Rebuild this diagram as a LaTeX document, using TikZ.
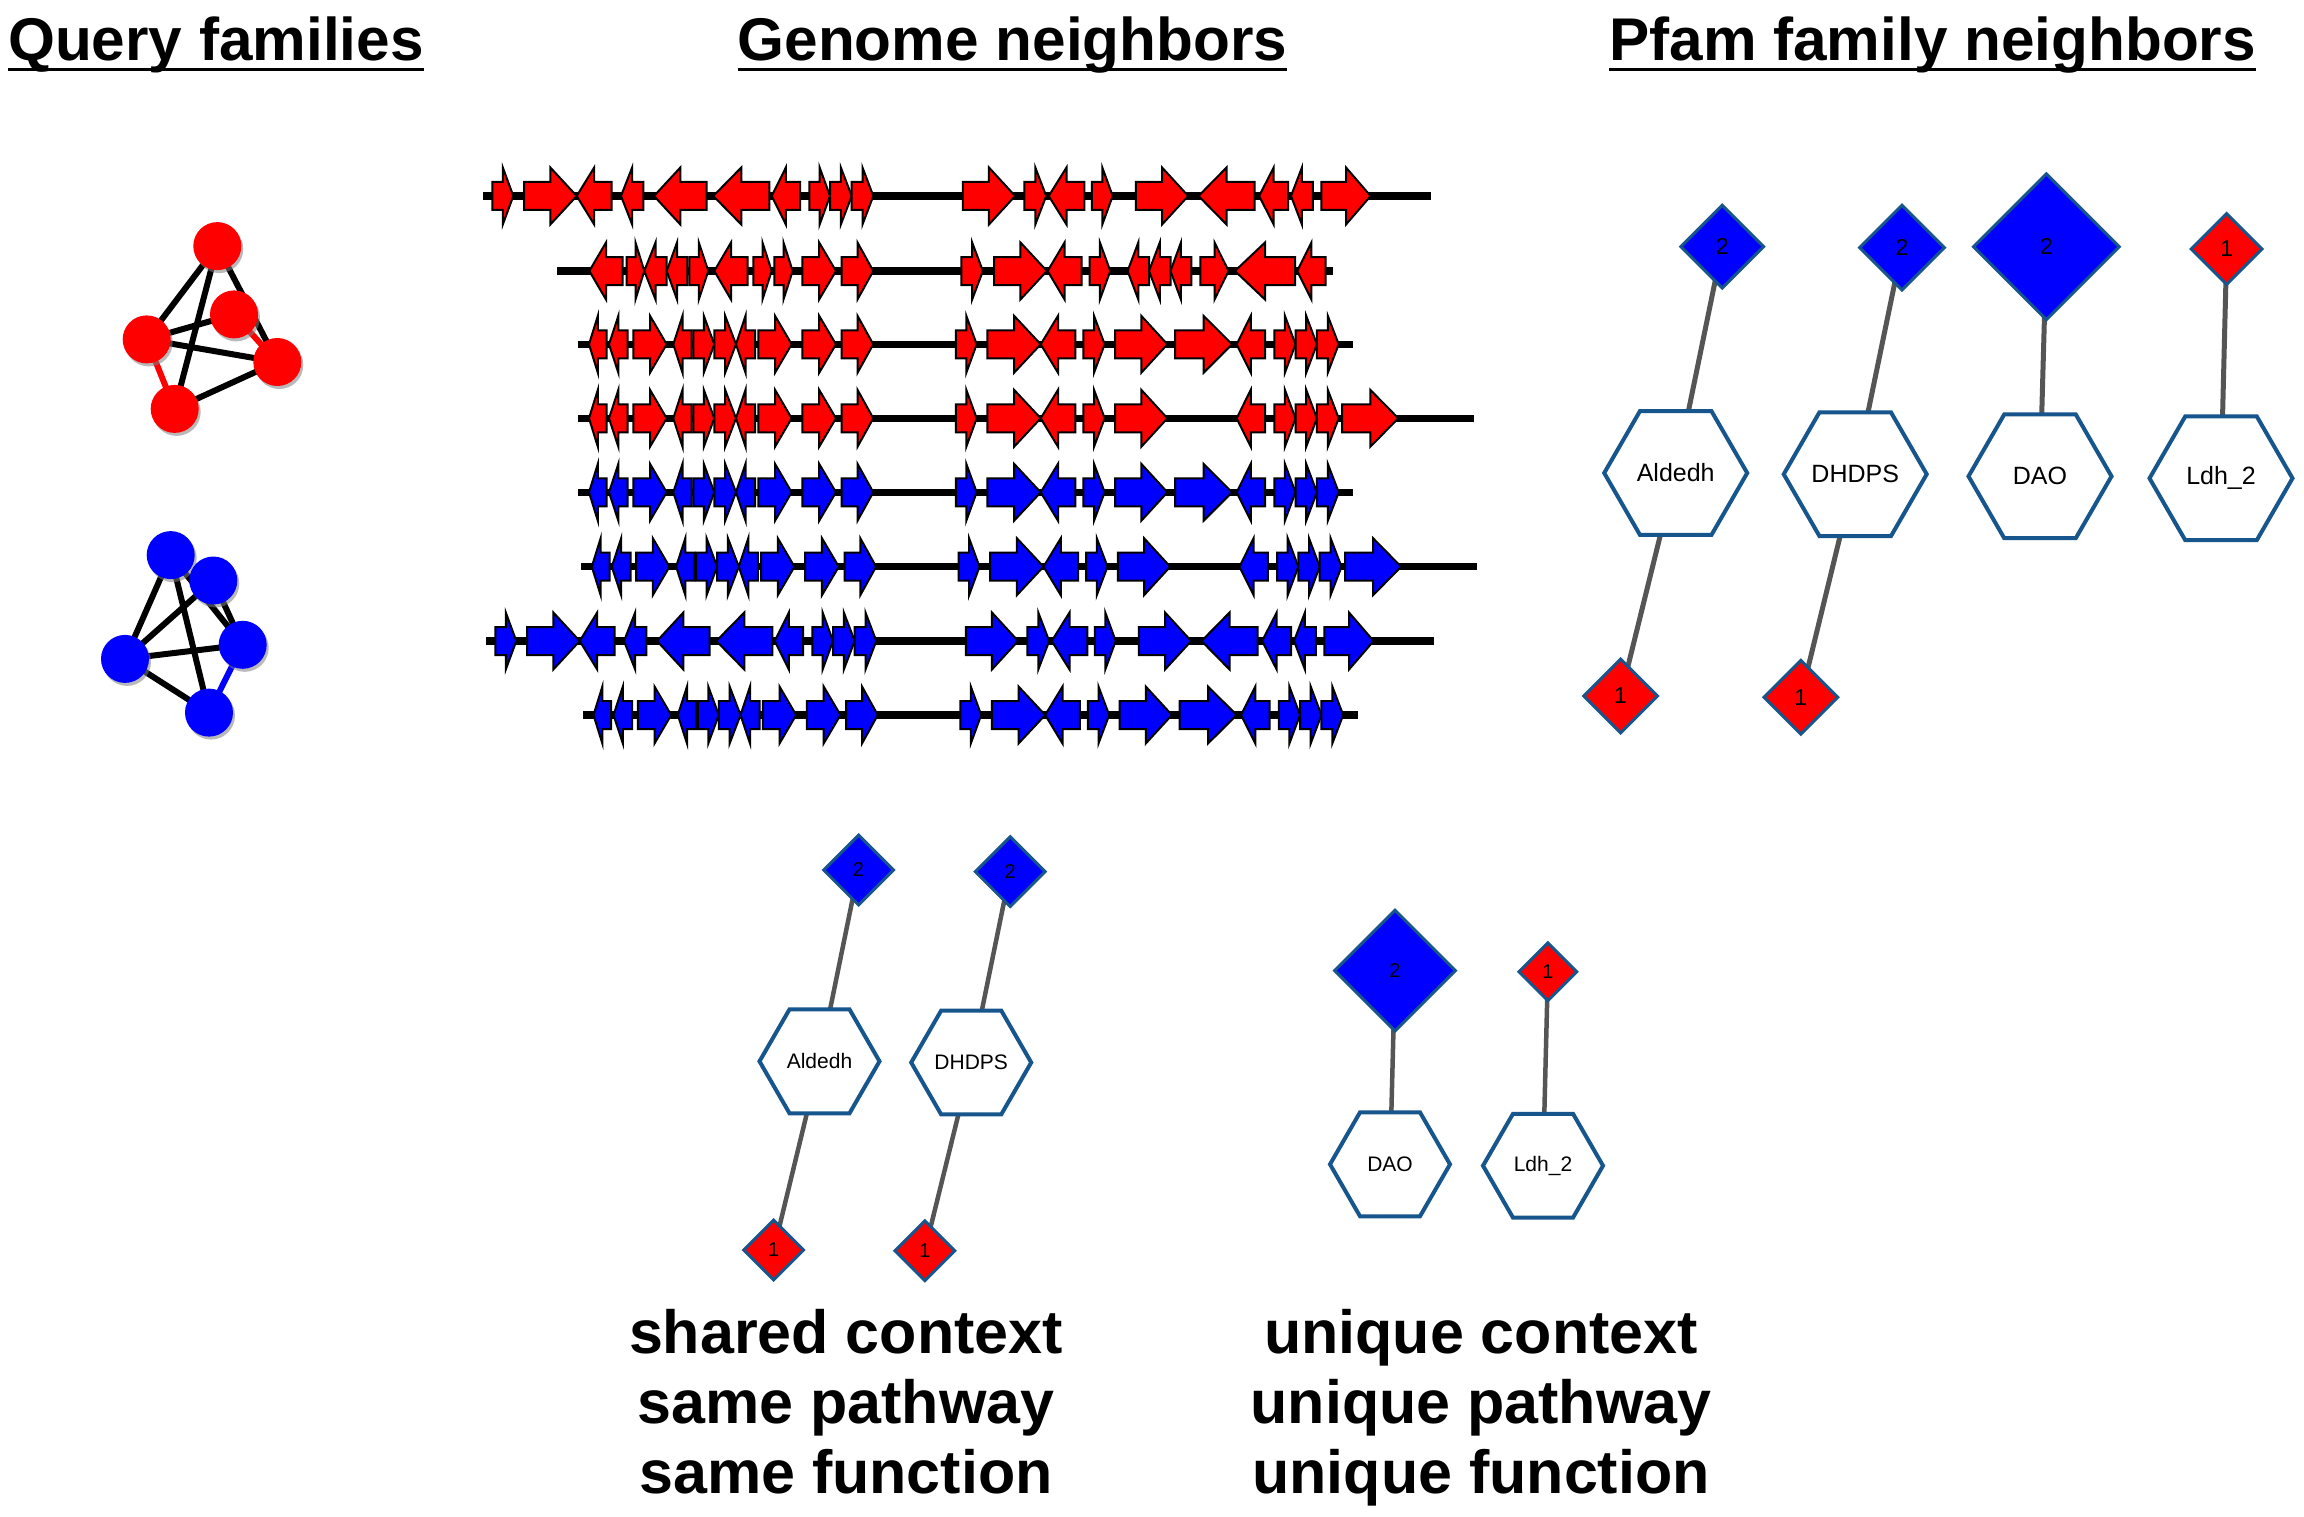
\documentclass[tikz,border=0pt]{standalone}
\usepackage{fontspec}
\setmainfont{Liberation Sans}
\usetikzlibrary{shapes.geometric,shadows,calc}
\pgfdeclarelayer{bgfill}
\pgfdeclarelayer{background}
\pgfsetlayers{bgfill,background,main}
\definecolor{gred}{RGB}{255,0,0}
\definecolor{gblue}{RGB}{0,0,255}
\definecolor{bord}{RGB}{22,86,140}
\definecolor{edgegray}{RGB}{85,85,85}

\tikzset{
  genebox/.style={draw=black,line width=2pt,line join=miter},
  qnode/.style={circle,minimum size=48pt,inner sep=0pt,
    drop shadow={shadow xshift=2pt,shadow yshift=-3pt,opacity=0.55}},
  qedge/.style={line width=6pt},
  title/.style={font=\fontsize{60.3}{70}\selectfont\bfseries,inner sep=0pt,anchor=base west},
  caption/.style={font=\fontsize{61}{70}\selectfont\bfseries,inner sep=0pt,anchor=base},
  ulin/.style={line width=3pt},
  dia/.style={diamond,aspect=1,inner sep=0pt,draw=bord,line width=3pt},
  hexa/.style={regular polygon,regular polygon sides=6,inner sep=0pt,draw=bord,line width=4pt,fill=white},
  pedge/.style={draw=edgegray,line width=5pt},
  sedge/.style={draw=edgegray,line width=4.5pt}
}

\newcommand{\generow}[5]{%
  \draw[line width=7.5pt] (#2,#1) -- (#3,#1);
  \foreach \a/\b/\d in #5 {%
    \pgfmathsetmacro{\hh}{(\b-\a)/2}%
    \if\d R%
      \pgfmathsetmacro{\m}{\b-\hh}%
      \filldraw[genebox,fill=#4] (\a,#1-14) -- (\m,#1-14) -- (\m,#1-28.5) -- (\b,#1) -- (\m,#1+28.5) -- (\m,#1+14) -- (\a,#1+14) -- cycle;%
    \else
      \pgfmathsetmacro{\m}{\a+\hh}%
      \filldraw[genebox,fill=#4] (\b,#1-14) -- (\m,#1-14) -- (\m,#1-28.5) -- (\a,#1) -- (\m,#1+28.5) -- (\m,#1+14) -- (\b,#1+14) -- cycle;%
    \fi
  }%
}

\def\rowone{492.3/513.3/R,524/576.7/R,576.7/611.7/L,621/643.3/L,654/706.7/L,713.3/769.3/L,771.7/800/L,809.3/830/R,830/851.7/R,851.7/873.3/R,962.8/1015.1/R,1024.4/1046.2/R,1048.7/1084.3/L,1091.9/1112.7/R,1135.9/1188.2/R,1198.5/1254.6/L,1259.1/1288.2/L,1291/1312.8/L,1321.4/1370.6/R}
\def\rowtwo{589.3/622.7/L,626.7/644.3/R,644.3/666.7/L,666.7/687.3/L,689.3/708.3/R,714.3/747.7/L,753.3/771.7/R,774.3/792.7/R,802.3/836/R,841.7/873.3/R,961.4/982.9/R,994/1046.9/R,1047.6/1081.5/L,1089.5/1110.3/R,1127.6/1149/L,1149/1170.5/L,1170.5/1191.3/L,1200.3/1228.7/R,1234.9/1295.1/L,1297.2/1325.6/L}
\def\rowthree{589/606.7/L,609/627.7/L,633.3/666.7/R,673.3/691.7/L,693.3/714.3/R,714.3/736/R,736/755/L,758.3/791.7/R,802.3/836/R,841.7/873.3/R,955.9/976.7/R,987.4/1040.7/R,1040.7/1075.3/L,1083.3/1104.7/R,1115.1/1167.4/R,1175/1232.1/R,1236.6/1265/L,1274.3/1295.5/R,1295.5/1316.9/R,1316.9/1338.7/R}
\def\rowfour{589/606.7/L,609/627.7/L,633.3/666.7/R,673.3/691.7/L,693.3/714.3/R,714.3/736/R,736/755/L,758.3/791.7/R,802.3/836/R,841.7/873.3/R,955.9/976.7/R,987.4/1040.7/R,1040.7/1075.3/L,1083.3/1104.7/R,1115.1/1167.4/R,1236.6/1265/L,1274.3/1295.5/R,1295.5/1316.9/R,1316.9/1338.7/R,1342.2/1398.3/R}

\begin{document}
\begin{tikzpicture}[x=1pt,y=-1pt]
\begin{pgfonlayer}{bgfill}
\fill[white] (0,0) rectangle (2304,1517);
\end{pgfonlayer}
\useasboundingbox (0,0) rectangle (2304,1517);

% ---------- titles
\node[title] (qt) at (8,61) {Query families};
\node[title] (gt) at (737.5,61) {Genome neighbors};
\node[title] (pt) at (1609,61) {Pfam family neighbors};
\foreach \t in {qt,gt,pt}{
  \draw[ulin] ($(\t.base west)+(0,8.5)$) -- ($(\t.base east)+(0,8.5)$);
}

% ---------- query families
\node[qnode,fill=gred] (r1) at (217.3,246.1) {};
\node[qnode,fill=gred] (r2) at (234,314.4) {};
\node[qnode,fill=gred] (r3) at (146.7,339.4) {};
\node[qnode,fill=gred] (r4) at (277.3,362) {};
\node[qnode,fill=gred] (r5) at (174.7,408.9) {};
\node[qnode,fill=gblue] (b1) at (170.7,555.1) {};
\node[qnode,fill=gblue] (b2) at (213.3,580.5) {};
\node[qnode,fill=gblue] (b3) at (242.7,644.8) {};
\node[qnode,fill=gblue] (b4) at (125,658.9) {};
\node[qnode,fill=gblue] (b5) at (209,712.6) {};
\begin{pgfonlayer}{background}
  \draw[qedge] (r1.center) -- (r3.center);
  \draw[qedge] (r1.center) -- (r4.center);
  \draw[qedge] (r1.center) -- (r5.center);
  \draw[qedge] (r3.center) -- (r2.center);
  \draw[qedge] (r3.center) -- (r4.center);
  \draw[qedge] (r5.center) -- (r4.center);
  \draw[qedge,draw=gred] (r3.center) -- (r5.center);
  \draw[qedge,draw=gred] (r2.center) -- (r4.center);
  \draw[qedge] (b1.center) -- (b4.center);
  \draw[qedge] (b1.center) -- (b5.center);
  \draw[qedge] (b1.center) -- (b3.center);
  \draw[qedge] (b2.center) -- (b4.center);
  \draw[qedge] (b2.center) -- (b3.center);
  \draw[qedge] (b4.center) -- (b3.center);
  \draw[qedge] (b4.center) -- (b5.center);
  \draw[qedge,draw=gblue] (b5.center) -- (b3.center);
\end{pgfonlayer}

% ---------- genome neighbors
\generow{196}{483}{1431}{gred}{\rowone}
\generow{271}{557.3}{1332.5}{gred}{\rowtwo}
\generow{344.3}{578.3}{1353.3}{gred}{\rowthree}
\generow{418.3}{578.3}{1474.4}{gred}{\rowfour}
\generow{492.3}{578.3}{1353.3}{gblue}{\rowthree}
\begin{scope}[xshift=2.8pt]
\generow{566.7}{578.3}{1474.4}{gblue}{\rowfour}
\end{scope}
\begin{scope}[xshift=3pt]
\generow{641}{483}{1431}{gblue}{\rowone}
\end{scope}
\begin{scope}[xshift=4.5pt]
\generow{715}{578.3}{1353.3}{gblue}{\rowthree}
\end{scope}

% ---------- Pfam family neighbors (top right)
\begin{scope}[every node/.append style={font=\fontsize{23}{26}\selectfont}]
\node[dia,fill=gblue,minimum width=84pt,minimum height=84pt] (pd1) at (1722.2,246.7) {2};
\node[dia,fill=gblue,minimum width=86pt,minimum height=86pt] (pd2) at (1902,247.7) {2};
\node[dia,fill=gblue,minimum width=147pt,minimum height=147pt] (pd3) at (2046.4,246.7) {2};
\node[dia,fill=gred,minimum width=72pt,minimum height=72pt] (pd4) at (2226.7,249) {1};
\node[dia,fill=gred,minimum width=75pt,minimum height=75pt] (pr1) at (1620.6,696) {1};
\node[dia,fill=gred,minimum width=75pt,minimum height=75pt] (pr2) at (1800.8,697.3) {1};
\end{scope}
\begin{scope}[every node/.append style={font=\fontsize{25}{28}\selectfont}]
\node[hexa,minimum size=143pt] (ph1) at (1675.7,473) {Aldedh};
\node[hexa,minimum size=143pt] (ph2) at (1855.2,474.2) {DHDPS};
\node[hexa,minimum size=143pt] (ph3) at (2040,476.3) {DAO};
\node[hexa,minimum size=143pt] (ph4) at (2221,478.3) {Ldh\_2};
\end{scope}
\begin{pgfonlayer}{background}
  \draw[pedge] (pd1.center) -- (ph1.center);
  \draw[pedge] (ph1.center) -- (pr1.center);
  \draw[pedge] (pd2.center) -- (ph2.center);
  \draw[pedge] (ph2.center) -- (pr2.center);
  \draw[pedge] (pd3.center) -- (ph3.center);
  \draw[pedge] (pd4.center) -- (ph4.center);
\end{pgfonlayer}

% ---------- bottom: shared vs unique
\begin{scope}[every node/.append style={font=\fontsize{20}{23}\selectfont}]
\node[dia,fill=gblue,minimum width=71pt,minimum height=71pt] (bd1) at (858.5,870) {2};
\node[dia,fill=gblue,minimum width=71pt,minimum height=71pt] (bd2) at (1010.2,871.7) {2};
\node[dia,fill=gred,minimum width=61pt,minimum height=61pt] (br1) at (773.7,1250) {1};
\node[dia,fill=gred,minimum width=61pt,minimum height=61pt] (br2) at (924.8,1250.7) {1};
\node[dia,fill=gblue,minimum width=122pt,minimum height=122pt] (bd3) at (1395,970.7) {2};
\node[dia,fill=gred,minimum width=59pt,minimum height=59pt] (bd4) at (1547.9,971.7) {1};
\end{scope}
\begin{scope}[every node/.append style={font=\fontsize{21}{24}\selectfont}]
\node[hexa,minimum size=120pt] (bh1) at (819.5,1061.3) {Aldedh};
\node[hexa,minimum size=120pt] (bh2) at (971.2,1062.5) {DHDPS};
\node[hexa,minimum size=120pt] (bh3) at (1390,1164.3) {DAO};
\node[hexa,minimum size=120pt] (bh4) at (1543,1165.7) {Ldh\_2};
\end{scope}
\begin{pgfonlayer}{background}
  \draw[sedge] (bd1.center) -- (bh1.center);
  \draw[sedge] (bh1.center) -- (br1.center);
  \draw[sedge] (bd2.center) -- (bh2.center);
  \draw[sedge] (bh2.center) -- (br2.center);
  \draw[sedge] (bd3.center) -- (bh3.center);
  \draw[sedge] (bd4.center) -- (bh4.center);
\end{pgfonlayer}

\node[caption] (c1) at (846,1353) {shared context};
\node[caption] (c2) at (846,1423) {same pathway};
\node[caption] (c3) at (846,1493) {same function};
\node[caption] (c4) at (1481,1353) {unique context};
\node[caption] (c5) at (1481,1423) {unique pathway};
\node[caption] (c6) at (1481,1493) {unique function};
\end{tikzpicture}
\end{document}
